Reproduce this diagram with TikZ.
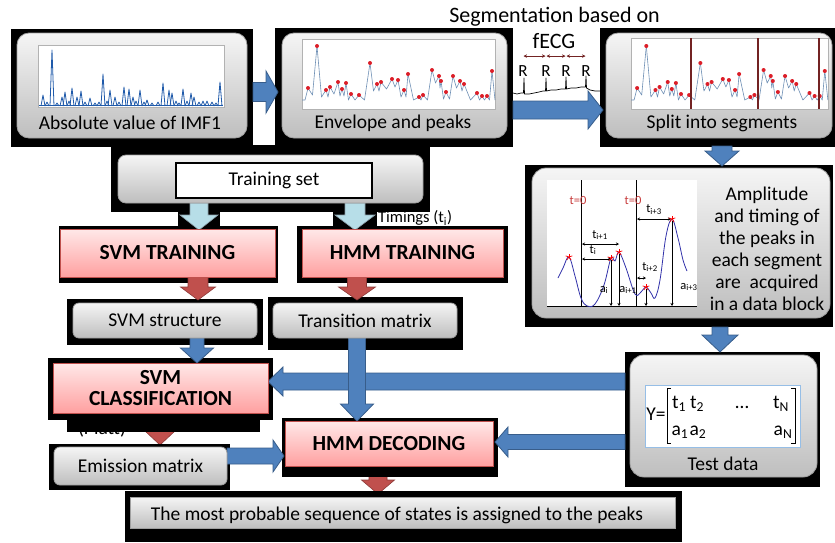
\documentclass[tikz,border=0pt]{standalone}
\usepackage{fontspec}
\setmainfont{Carlito}
\usetikzlibrary{calc,arrows.meta}
\pgfdeclarelayer{low}
\pgfdeclarelayer{blk}
\pgfdeclarelayer{mid}
\pgfsetlayers{low,blk,mid,main}
\definecolor{gtop}{RGB}{245,245,245}
\definecolor{gbot}{RGB}{190,190,190}
\definecolor{gline}{RGB}{160,160,160}
\definecolor{ptop}{RGB}{255,232,232}
\definecolor{pbot}{RGB}{255,160,160}
\definecolor{pline}{RGB}{192,80,77}
\definecolor{bfill}{RGB}{79,129,189}
\definecolor{bline}{RGB}{56,93,138}
\definecolor{lbfill}{RGB}{183,222,232}
\definecolor{lbline}{RGB}{140,160,170}
\definecolor{rfill}{RGB}{192,80,77}
\definecolor{rline}{RGB}{140,56,54}
\definecolor{sigblue}{RGB}{31,90,170}
\definecolor{envcol}{RGB}{110,143,181}
\definecolor{dotred}{RGB}{220,30,40}
\definecolor{segred}{RGB}{115,35,35}
\definecolor{curveblue}{RGB}{50,50,170}
\definecolor{tred}{RGB}{200,60,60}
\definecolor{matline}{RGB}{150,190,230}
\newcommand{\myfs}[1]{\fontsize{#1}{#1}\selectfont}
\newcommand{\barrow}[6]{%
  \path let \p1=#2, \p2=#3 in \pgfextra{%
    \pgfmathsetmacro\tmpang{atan2(\y2-\y1,\x2-\x1)}%
    \pgfmathsetmacro\tmplen{veclen(\x2-\x1,\y2-\y1)}%
    \xdef\baang{\tmpang}\xdef\balen{\tmplen}%
    \xdef\bax{\x1}\xdef\bay{\y1}};
  \begin{scope}[shift={(\bax,\bay)}, rotate=\baang]
    \draw[#1] (0,-#4) -- ({\balen-#6},-#4) -- ({\balen-#6},-#5) -- (\balen,0) -- ({\balen-#6},#5) -- ({\balen-#6},#4) -- (0,#4) -- cycle;
  \end{scope}}
\def\peaklist{6/88,15/46,24/90,28/87,36/82,40/89,44/83,49/94,57/95,68/63,75/84,79/82,90/79,96/80,102/90,106/74,117/97,121/95,130/70,137/76,139/81,144/92,151/76,158/81,162/84,175/93,180/96,185/96,190/71}
\newcommand{\envelope}{%
  \foreach \x/\y [remember=\x as \lx (initially 0), remember=\y as \ly (initially 100)] in \peaklist {%
    \pgfmathsetmacro\vy{min(100,max(\ly,\y)+7)}
    \draw[envcol, line width=0.6pt, line join=round] (\lx,\ly) -- ({(\lx+\x)/2},\vy) -- (\x,\y);
  }
  \draw[envcol, line width=0.6pt] (190,71) -- (193,100);
  \foreach \x/\y in \peaklist {\fill[dotred] (\x,\y) circle (2pt);}
}
\newcommand{\astr}[2]{\foreach \a in {90,162,234,306,18}{\draw[red, line width=0.7pt] (#1,#2) -- ++(\a:3.5pt);}}
\begin{document}
\begin{tikzpicture}[x=1pt,y=-1pt,
  every node/.style={inner sep=0pt, outer sep=0pt},
  gbox/.style={draw=gline, line width=0.8pt, top color=gtop, bottom color=gbot, rounded corners=#1},
  gbox/.default=12pt,
  pbox/.style={draw=pline, line width=1pt, top color=ptop, bottom color=pbot, font=\bfseries\myfs{21.5}, align=center},
  plotarea/.style={draw=gray!60, line width=0.5pt, fill=white},
  lbl/.style={font=\myfs{19.5}, anchor=base},
  small/.style={font=\myfs{12.5}},
  bluearr/.style={fill=bfill, draw=bline, line width=0.8pt},
  lbarr/.style={fill=lbfill, draw=lbline, line width=0.6pt},
  redarr/.style={fill=rfill, draw=rline, line width=0.6pt},
  dbl/.style={line width=0.5pt, {Stealth[length=3pt,width=3pt]}-{Stealth[length=3pt,width=3pt]}},
  vdown/.style={line width=0.5pt, -{Stealth[length=3pt,width=3pt]}}
]
\useasboundingbox (0,0) rectangle (835,542);

% ---------- black backdrops ----------
\begin{pgfonlayer}{blk}
\fill (11,29) rectangle (253,147);
\fill (275,28) rectangle (513,147);
\fill (600,28) rectangle (835,147);
\fill (111,145) rectangle (430,212);
\fill (178,205) rectangle (220,229);
\fill (333,205) rectangle (377,229);
\fill (59,226) rectangle (278,283);
\fill (297,226) rectangle (508,283);
\fill (67,299) rectangle (263,345);
\fill (268,297) rectangle (463,350);
\fill (48,358) rectangle (273,420);
\fill (67,420) rectangle (260,432);
\fill (49,444) rectangle (230,490);
\fill (282,418) rectangle (498,477);
\fill (125,491) rectangle (682,542);
\fill (625,352) rectangle (820,487);
\fill (525,165) rectangle (833,327);
\end{pgfonlayer}

% ---------- row 1 ----------
\node[gbox, minimum width=230pt, minimum height=105pt] (b1) at (132,85.5) {};
\node[plotarea, minimum width=186pt, minimum height=62pt] (p1) at (131,76) {};
\node[lbl] (b1t) at (130,129) {Absolute value of IMF1};
\draw[sigblue, line width=0.7pt] (39,105) -- (223,105);
\foreach \x/\y in {43/95,52/50,62/97,65/92,72/88,77/97,81/91,90/98,103/74,110/90,115/97,124/87,129/89,133/97,140/90,147/100,163/83,169/90,172/93,183/89,191/93,194/97,207/101,220/82,47/102,57/103,69/101,85/102,95/103,99/102,107/101,119/102,136/101,144/102,152/103,158/102,176/101,179/103,187/101,199/102,203/101,212/102,216/103}
  {\draw[sigblue, line width=0.8pt, line join=round] (\x-2,106) -- (\x,\y) -- (\x+2,106);}

\node[gbox, minimum width=225pt, minimum height=105pt] (b2) at (394.5,85.5) {};
\node[plotarea, minimum width=193pt, minimum height=70pt] (p2) at (398.5,74) {};
\node[lbl] (b2t) at (393,128) {Envelope and peaks};
\begin{scope}[shift={(302,0)}]\envelope\end{scope}

\node[gbox, minimum width=226pt, minimum height=105pt] (b3) at (719,85.5) {};
\node[plotarea, minimum width=197pt, minimum height=71pt] (p3) at (729.5,73.5) {};
\node[lbl] (b3t) at (722,128) {Split into segments};
\begin{scope}[shift={(631,0)}, xscale=1.02]\envelope\end{scope}
\foreach \x in {691,758,819} {\draw[segred, line width=1.2pt] (\x,38) -- (\x,109);}

% segmentation label and fECG
\node[font=\myfs{22}, anchor=base] (seg) at (554.5,22.5) {Segmentation based on};
\node[font=\myfs{22}, anchor=base] (fecg) at (554,48) {fECG};
\foreach \x [count=\i] in {523,546,566,586} {\node[font=\myfs{17}, anchor=base] (r\i) at (\x,76.5) {R};}
\foreach \i/\j in {1/2,2/3,3/4}
  {\draw[segred, line width=0.8pt, {Stealth[length=3.5pt,width=3.5pt]}-{Stealth[length=3.5pt,width=3.5pt]}, shorten <=0.5pt, shorten >=0.5pt] ($(r\i.north)+(0,-9.5)$) -- ($(r\j.north)+(0,-9.5)$);}
\draw[line width=0.7pt, line join=round] (513,93) -- (517,94) -- (521,93) -- (523.5,93) -- (524,78) -- (524.5,94) -- (529,94) -- (534,93) -- (539,92) -- (543,91) -- (545.5,91) -- (546,78) -- (546.5,91) -- (551,90) -- (556,90) -- (561,89) -- (565.5,89) -- (566,77) -- (566.5,89) -- (571,88) -- (576,88) -- (581,87) -- (585.5,87) -- (586,76) -- (586.5,88) -- (590,90) -- (595,91) -- (600,91);

% ---------- training ----------
\node[gbox=8pt, minimum width=305pt, minimum height=48pt] (trainbox) at (270.5,179) {};
\node[draw=black, line width=1.2pt, fill=white, minimum width=196pt, minimum height=35pt, font=\myfs{19.5}] (trainset) at (274,180.5) {Training set};
\node[font=\myfs{16.5}, anchor=base west] (timings) at (378,222.5) {Timings (t\textsubscript{i})};
\node[pbox, minimum width=215pt, minimum height=48pt] (svmtr) at (167.5,253) {SVM TRAINING};
\node[pbox, minimum width=201pt, minimum height=48pt] (hmmtr) at (402.5,253) {HMM TRAINING};
\node[gbox=6pt, minimum width=184pt, minimum height=35pt, font=\myfs{19.5}] (svmst) at (165,320.5) {SVM structure};
\node[gbox=6pt, minimum width=184pt, minimum height=35pt, font=\myfs{19.5}] (trans) at (365,320.5) {Transition matrix};
\node[pbox, minimum width=215pt, minimum height=50pt] (svmcl) at (160.5,388) {SVM\\CLASSIFICATION};
\node[gbox=6pt, minimum width=173pt, minimum height=38pt, font=\myfs{19.5}] (emis) at (140.5,466) {Emission matrix};
\node[pbox, minimum width=208pt, minimum height=45pt] (hmmdec) at (389,443.5) {HMM DECODING};
\node[draw=gline, line width=0.8pt, top color=gtop, bottom color=gbot, minimum width=545pt, minimum height=31pt] (bottom) at (402.5,512.5) {};
\node[lbl] (bottomt) at (397,520) {The most probable sequence of states is assigned to the peaks};

% ---------- amplitude box ----------
\node[gbox=14pt, minimum width=298pt, minimum height=150pt] (amp) at (681,243) {};
\node[fill=white, minimum width=150pt, minimum height=127pt] (ampimg) at (622,243.5) {};
\node[font=\fontsize{19.5}{22}\selectfont, align=center, anchor=north] (amptext) at (767,187) {Amplitude\\and timing of\\the peaks in\\each segment\\are\ \ acquired\\in a data block};
\draw[line width=0.6pt] (547,306) -- (697,306);
\draw[line width=0.6pt] (581,180) -- (581,306);
\draw[line width=0.6pt] (636,180) -- (636,306);
\draw[curveblue, line width=0.8pt] plot[smooth, tension=0.6] coordinates {(558,278) (563,268) (569,257) (575,276) (581,298) (587,306) (595,304) (604,285) (611,258) (615,261) (619,252) (626,268) (635,294) (641,292) (646,287) (651,293) (655,298) (660,280) (666,236) (672,219) (678,238) (683,260) (687,271)};
\node[small, text=tred] (t0a) at (578,200) {t=0};
\node[small, text=tred] (t0b) at (633,200) {t=0};
\draw[dbl] (582,244) -- (619,244);
\node[small] (ti1) at (600,235) {t\textsubscript{i+1}};
\draw[dbl] (582,259) -- (611,259);
\node[small] (ti) at (593,250) {t\textsubscript{i}};
\draw[dbl] (637,219) -- (671,219);
\node[small] (ti3) at (654,210) {t\textsubscript{i+3}};
\draw[dbl] (637,278) -- (646,278);
\node[small] (ti2) at (650,267) {t\textsubscript{i+2}};
\draw[vdown] (611,260) -- (611,306);
\draw[vdown] (619,254) -- (619,306);
\draw[vdown] (646,289) -- (646,306);
\draw[vdown] (672,221) -- (672,306);
\node[small] (ai) at (604,290) {a\textsubscript{i}};
\node[small] (ai1) at (628,290) {a\textsubscript{i+1}};
\node[small] (ai3) at (689,287) {a\textsubscript{i+3}};
\astr{569}{257}\astr{611}{258}\astr{619}{252}\astr{646}{287}\astr{672}{219}

% ---------- test data ----------
\node[gbox=14pt, minimum width=187pt, minimum height=122pt] (test) at (723.5,416) {};
\node[draw=matline, line width=1pt, fill=white, minimum width=155pt, minimum height=62pt] (mat) at (722.5,416) {};
\node[lbl] (testt) at (723,470) {Test data};
\node[lbl] (yeq) at (656,420) {Y=};
\draw[line width=0.9pt] (671,388) -- (667,388) -- (667,443) -- (671,443);
\draw[line width=0.9pt] (791,388) -- (795,388) -- (795,443) -- (791,443);
\node[lbl] (mt1) at (679,408) {t\textsubscript{1}};
\node[lbl] (mt2) at (697,408) {t\textsubscript{2}};
\node[lbl] (mdots) at (742,408) {…};
\node[lbl] (mtn) at (781,408) {t\textsubscript{N}};
\node[lbl] (ma1) at (680,435) {a\textsubscript{1}};
\node[lbl] (ma2) at (698,435) {a\textsubscript{2}};
\node[lbl] (man) at (783,435) {a\textsubscript{N}};

% ---------- hidden-under-black items ----------
\begin{pgfonlayer}{low}
\node[font=\myfs{19.5}] (platt) at (102,429) {(Platt)};
\barrow{redarr}{($(svmcl.south)+(-0.5,0)$)}{($(emis.north)+(19.5,-2)$)}{8}{16}{15}
\barrow{redarr}{($(hmmdec.south)+(-11,0)$)}{($(bottom.north)+(-24.5,-3)$)}{9}{16.5}{14}
\end{pgfonlayer}

% ---------- block arrows ----------
\begin{pgfonlayer}{mid}
\barrow{bluearr}{($(b1.east)+(6,6.5)$)}{($(b2.west)+(-4,6.5)$)}{9.5}{21}{12}
\barrow{bluearr}{($(b2.east)+(6,24.5)$)}{($(b3.west)+(-3,24.5)$)}{9}{19}{15}
\barrow{bluearr}{($(b3.south)+(3,8)$)}{($(amp.north)+(41,-2)$)}{10}{17}{15}
\barrow{bluearr}{($(amp.south)+(39,9)$)}{($(test.north)+(-3.5,-3)$)}{8}{18}{17}
\barrow{lbarr}{($(trainbox.south)+(-71.5,0)$)}{($(svmtr.north)+(31.5,1)$)}{9}{19}{15}
\barrow{lbarr}{($(trainbox.south)+(84.5,0)$)}{($(hmmtr.north)+(-47.5,1)$)}{10}{20}{15}
\barrow{redarr}{($(svmtr.south)+(30.5,0)$)}{($(svmst.north)+(33,-3)$)}{10}{17.5}{13}
\barrow{redarr}{($(hmmtr.south)+(-45.5,0)$)}{($(trans.north)+(-8,-3)$)}{9.5}{18.5}{13}
\barrow{bluearr}{($(svmst.south)+(32,0)$)}{($(svmcl.north)+(36.5,0)$)}{7}{16.5}{15}
\barrow{bluearr}{($(emis.east)+(0,-10)$)}{($(hmmdec.west)+(-1,12.5)$)}{8}{16}{11}
\barrow{bluearr}{($(test.west)+(-5,-34.5)$)}{($(svmcl.east)+(0,-6.5)$)}{8.5}{14.5}{15}
\barrow{bluearr}{($(test.west)+(-5,26)$)}{($(hmmdec.east)+(2,-1.5)$)}{7.5}{15}{13}
\barrow{bluearr}{($(trans.south)+(-8,0)$)}{($(hmmdec.north)+(-32,0)$)}{8.5}{16.5}{17}
\end{pgfonlayer}
\end{tikzpicture}
\end{document}
